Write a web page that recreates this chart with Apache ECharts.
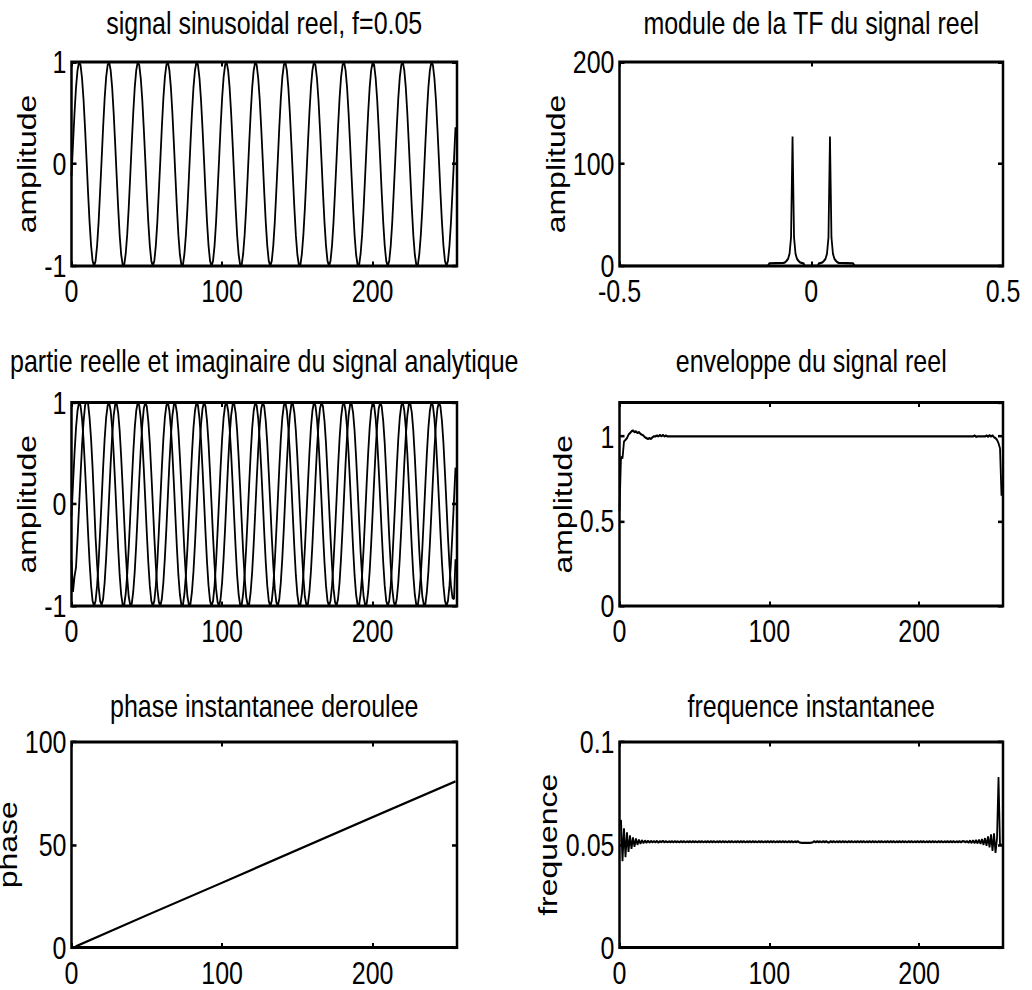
<!DOCTYPE html>
<html>
<head>
<meta charset="utf-8">
<script src="https://cdn.jsdelivr.net/npm/echarts@6/dist/echarts.min.js"></script>
<style>
html, body { margin: 0; padding: 0; background: #fff; overflow: hidden; }
#wrap { width: 1032px; height: 990px; overflow: hidden; position: relative; }
#chart { width: 1032px; height: 774px; transform: scaleY(1.2790698); transform-origin: 0 0; }
</style>
</head>
<body>
<div id="wrap"><div id="chart"></div></div>
<script>
// ---------------- data ----------------
const titles = [
  'signal sinusoidal reel, f=0.05',
  'module de la TF du signal reel',
  'partie reelle et imaginaire du signal analytique',
  'enveloppe du signal reel',
  'phase instantanee deroulee',
  'frequence instantanee'
];
const yNames = ['amplitude', 'amplitude', 'amplitude', 'amplitude', 'phase', 'frequence'];

// real signal, samples t = 0..255
const signalReel = [
  -0.12,0.20,0.50,0.75,0.92,1.00,0.97,0.84,0.63,0.35,0.04,-0.28,-0.57,-0.80,-0.95,-1.00,-0.95,-0.80,-0.57,-0.27,0.04,0.36,0.64,0.85,0.97,1.00,0.92,0.75,0.50,0.20,-0.12,-0.43,-0.70,-0.89,-0.99,-0.99,-0.88,-0.69,-0.43,
  -0.12,0.20,0.50,0.75,0.92,1.00,0.97,0.84,0.63,0.35,0.04,-0.28,-0.57,-0.80,-0.95,-1.00,-0.95,-0.80,-0.57,-0.27,0.04,0.36,0.64,0.85,0.97,1.00,0.92,0.75,0.50,0.20,-0.12,-0.43,-0.70,-0.89,-0.99,-0.99,-0.88,-0.69,-0.43,
  -0.12,0.20,0.50,0.75,0.92,1.00,0.97,0.84,0.63,0.35,0.04,-0.28,-0.57,-0.80,-0.95,-1.00,-0.95,-0.80,-0.57,-0.27,0.04,0.36,0.64,0.85,0.97,1.00,0.92,0.75,0.50,0.20,-0.12,-0.43,-0.70,-0.89,-0.99,-0.99,-0.88,-0.69,-0.43,
  -0.12,0.20,0.50,0.75,0.92,1.00,0.97,0.84,0.63,0.35,0.04,-0.28,-0.57,-0.80,-0.95,-1.00,-0.95,-0.80,-0.57,-0.27,0.04,0.36,0.64,0.85,0.97,1.00,0.92,0.75,0.50,0.20,-0.12,-0.43,-0.70,-0.89,-0.99,-0.99,-0.88,-0.69,-0.43,
  -0.12,0.20,0.50,0.75,0.92,1.00,0.97,0.84,0.63,0.35,0.04,-0.28,-0.57,-0.80,-0.95,-1.00,-0.95,-0.80,-0.57,-0.27,0.04,0.36,0.64,0.85,0.97,1.00,0.92,0.75,0.50,0.20,-0.12,-0.43,-0.70,-0.89,-0.99,-0.99,-0.88,-0.69,-0.43,
  -0.12,0.20,0.50,0.75,0.92,1.00,0.97,0.84,0.63,0.35,0.04,-0.28,-0.57,-0.80,-0.95,-1.00,-0.95,-0.80,-0.57,-0.27,0.04,0.36,0.64,0.85,0.97,1.00,0.92,0.75,0.50,0.20,-0.12,-0.43,-0.70,-0.89,-0.99,-0.99,-0.88,-0.69,-0.43,
  -0.12,0.20,0.50,0.75,0.92,1.00,0.97,0.84,0.63,0.35,0.04,-0.28,-0.57,-0.80,-0.95,-1.00,-0.95,-0.80,-0.57,-0.27,0.04,0.36
];

// imaginary part of the analytic signal, t = 0..255
const partieImag = [
  -0.55,-0.86,-0.71,-0.62,-0.34,-0.03,0.28,0.58,0.81,0.97,1.02,0.99,0.85,0.64,0.36,0.02,-0.33,-0.59,-0.81,-0.95,-0.99,-0.93,-0.77,-0.53,-0.24,0.08,0.40,0.67,0.87,0.98,0.99,0.90,0.72,0.46,0.16,-0.16,-0.47,-0.72,-0.91,
  -0.99,-0.98,-0.86,-0.66,-0.39,-0.08,0.24,0.54,0.78,0.94,1.00,0.96,0.82,0.60,0.31,0.00,-0.32,-0.60,-0.83,-0.96,-1.00,-0.93,-0.77,-0.53,-0.24,0.08,0.40,0.67,0.87,0.98,0.99,0.90,0.72,0.46,0.16,-0.16,-0.47,-0.72,-0.91,
  -0.99,-0.98,-0.86,-0.66,-0.39,-0.08,0.24,0.54,0.78,0.94,1.00,0.96,0.82,0.60,0.31,0.00,-0.32,-0.60,-0.83,-0.96,-1.00,-0.93,-0.77,-0.53,-0.24,0.08,0.40,0.67,0.87,0.98,0.99,0.90,0.72,0.46,0.16,-0.16,-0.47,-0.72,-0.91,
  -0.99,-0.98,-0.86,-0.66,-0.39,-0.08,0.24,0.54,0.78,0.94,1.00,0.96,0.82,0.60,0.31,0.00,-0.32,-0.60,-0.83,-0.96,-1.00,-0.93,-0.77,-0.53,-0.24,0.08,0.40,0.67,0.87,0.98,0.99,0.90,0.72,0.46,0.16,-0.16,-0.47,-0.72,-0.91,
  -0.99,-0.98,-0.86,-0.66,-0.39,-0.08,0.24,0.54,0.78,0.94,1.00,0.96,0.82,0.60,0.31,0.00,-0.32,-0.60,-0.83,-0.96,-1.00,-0.93,-0.77,-0.53,-0.24,0.08,0.40,0.67,0.87,0.98,0.99,0.90,0.72,0.46,0.16,-0.16,-0.47,-0.72,-0.91,
  -0.99,-0.98,-0.86,-0.66,-0.39,-0.08,0.24,0.54,0.78,0.94,1.00,0.96,0.82,0.60,0.31,0.00,-0.32,-0.60,-0.83,-0.96,-1.00,-0.93,-0.77,-0.53,-0.24,0.08,0.40,0.67,0.87,0.98,0.99,0.90,0.72,0.46,0.16,-0.16,-0.47,-0.72,-0.91,
  -0.99,-0.98,-0.86,-0.66,-0.39,-0.08,0.24,0.54,0.78,0.94,1.00,0.96,0.82,0.60,0.31,0.00,-0.32,-0.60,-0.80,-0.92,-0.93,-0.54
];

// magnitude of the Fourier transform (normalised frequency, amplitude)
const tfFreq = [-0.5,-0.1133,-0.1094,-0.0723,-0.0684,-0.0645,-0.0605,-0.0566,-0.0527,-0.0488,-0.0449,-0.0410,-0.0371,-0.0332,-0.0293,-0.0254,-0.0215,-0.0195,-0.0176,
                0.0176,0.0195,0.0215,0.0254,0.0293,0.0332,0.0371,0.0410,0.0449,0.0488,0.0527,0.0566,0.0605,0.0645,0.0684,0.0723,0.1094,0.1133,0.5];
const tfModule = [0,0,2.5,3,3.5,5,7,12,28,127,28,12,7,5,3.5,3,2.5,2.5,0,
                  0,2.5,2.5,3,3.5,5,7,12,28,127,28,12,7,5,3.5,3,2.5,0,0];

// envelope (sample index, value)
const envT   = [0,1,2,3,4,5,6,7,8,9,10,11,12,13,14,15,16,17,18,19,20,21,22,23,24,25,26,27,28,29,30,31,32,
                236,237,238,239,244,245,246,247,248,249,250,251,252,253,254,255];
const envVal = [0.56,0.88,0.87,0.97,0.98,0.99,1.01,1.02,1.03,1.035,1.025,1.03,1.02,1.025,1.015,1.01,1.005,0.995,0.99,0.985,0.99,0.985,0.995,1.0,1.0,1.005,1.0,1.008,1.0,1.008,1.0,1.006,1.0,
                1.0,1.006,0.998,1.0,1.0,1.006,0.998,1.007,1.0,1.006,0.995,0.99,0.98,0.96,0.93,0.65];

// unwrapped instantaneous phase (sample index, value)
const phaseT   = [0, 2, 4, 50, 100, 150, 200, 255];
const phaseVal = [-0.2, 0.1, 0.9, 15.7, 31.5, 47.5, 63.4, 80.8];

// instantaneous frequency, t = 0..255
const freqInst = [
  0.0605,0.0620,0.0420,0.0580,0.0440,0.0560,0.0465,0.0545,0.0480,0.0535,
  0.0490,0.0530,0.0500,0.0525,0.0505,0.0522,0.0508,0.0520,0.0510,0.0519,
  0.0511,0.0518,0.0512,0.0517,0.0512,0.0518,0.0511,0.0517,0.0513,0.0518,
  0.0512,0.0517,0.0512,0.0516,0.0513,0.0517,0.0512,0.0517,0.0513,0.0516,
  0.0512,0.0517,0.0513,0.0517,0.0512,0.0516,0.0513,0.0517,0.0512,0.0517,
  0.0513,0.0516,0.0512,0.0517,0.0513,0.0517,0.0512,0.0516,0.0513,0.0517,
  0.0512,0.0517,0.0513,0.0517,0.0512,0.0516,0.0513,0.0517,0.0512,0.0517,
  0.0513,0.0516,0.0512,0.0517,0.0513,0.0517,0.0512,0.0516,0.0513,0.0517,
  0.0512,0.0517,0.0513,0.0517,0.0512,0.0516,0.0513,0.0517,0.0512,0.0517,
  0.0513,0.0516,0.0512,0.0517,0.0513,0.0517,0.0512,0.0516,0.0513,0.0517,
  0.0512,0.0517,0.0513,0.0517,0.0512,0.0516,0.0513,0.0517,0.0512,0.0517,
  0.0513,0.0516,0.0512,0.0517,0.0513,0.0517,0.0512,0.0516,0.0513,0.0517,
  0.0512,0.0510,0.0509,0.0509,0.0509,0.0509,0.0509,0.0509,0.0510,0.0512,
  0.0517,0.0512,0.0517,0.0513,0.0516,0.0512,0.0517,0.0513,0.0517,0.0512,
  0.0512,0.0517,0.0513,0.0517,0.0512,0.0516,0.0513,0.0517,0.0512,0.0517,
  0.0513,0.0516,0.0512,0.0517,0.0513,0.0517,0.0512,0.0516,0.0513,0.0517,
  0.0512,0.0517,0.0513,0.0517,0.0512,0.0516,0.0513,0.0517,0.0512,0.0517,
  0.0513,0.0516,0.0512,0.0517,0.0513,0.0517,0.0512,0.0516,0.0513,0.0517,
  0.0512,0.0517,0.0513,0.0517,0.0512,0.0516,0.0513,0.0517,0.0512,0.0517,
  0.0513,0.0516,0.0512,0.0517,0.0513,0.0517,0.0512,0.0516,0.0513,0.0517,
  0.0512,0.0517,0.0513,0.0517,0.0512,0.0516,0.0513,0.0517,0.0512,0.0517,
  0.0513,0.0516,0.0512,0.0517,0.0513,0.0517,0.0512,0.0516,0.0513,0.0517,
  0.0512,0.0517,0.0513,0.0517,0.0512,0.0516,0.0513,0.0517,0.0512,0.0517,
  0.0516,0.0513,0.0517,0.0510,0.0520,0.0509,0.0521,0.0508,0.0522,0.0507,
  0.0524,0.0505,0.0527,0.0500,0.0532,0.0495,0.0540,0.0488,0.0550,0.0470,
  0.0555,0.0460,0.0530,0.0830,0.0500,0.0500
];

// axis ranges [min, max, interval]
const xRanges = [[0,256,100],[-0.5,0.5,0.5],[0,256,100],[0,256,100],[0,256,100],[0,256,100]];
const yRanges = [[-1,1,1],[0,200,100],[-1,1,1],[0,1.2,0.5],[0,100,50],[0,0.1,0.05]];

// ---------------- layout / style ----------------
const S = 990 / 774;                 // vertical stretch of the page
const FONT = '"Liberation Sans", Arial, Helvetica, sans-serif';
const FS = 25;
const cols = [{left: 71.5, right: 457}, {left: 619.5, right: 1003}];
const rows = [[62, 266], [402.5, 606], [742, 947.5]];
const titleInkTop = [12, 350, 695];
const nameGaps = [32, 47, 32, 42, 39, 59];
const showMaxX = [false, true, false, false, false, false];
const showMaxY = [true, true, true, false, true, true];

const grids = [], xAxes = [], yAxes = [], titleOpts = [];
for (let i = 0; i < 6; i++) {
  const c = cols[i % 2], r = rows[Math.floor(i / 2)];
  grids.push({
    left: c.left, width: c.right - c.left,
    top: r[0] / S, height: (r[1] - r[0]) / S,
    show: true, borderColor: '#000', borderWidth: 2.5, backgroundColor: 'transparent',
    containLabel: false, outerBoundsMode: 'none'
  });
  titleOpts.push({
    text: titles[i], left: (c.left + c.right) / 2, top: titleInkTop[Math.floor(i / 2)] / S - 4,
    textAlign: 'center', padding: 0,
    textStyle: {fontSize: FS, fontWeight: 'normal', color: '#000', fontFamily: FONT}
  });
  const xr = xRanges[i], yr = yRanges[i];
  const tick = (len) => ({show: true, inside: true, length: len, lineStyle: {color: '#000', width: 2}});
  const noLine = {show: false, onZero: false};
  const lab = (showMax) => ({show: true, color: '#000', fontSize: FS, fontFamily: FONT, showMaxLabel: showMax, showMinLabel: true, hideOverlap: false});
  xAxes.push({
    gridIndex: i, type: 'value', position: 'bottom', min: xr[0], max: xr[1], interval: xr[2],
    axisLine: noLine, axisTick: tick(3.5), splitLine: {show: false},
    axisLabel: Object.assign(lab(showMaxX[i]), {margin: 7})
  });
  xAxes.push({
    gridIndex: i, type: 'value', position: 'top', min: xr[0], max: xr[1], interval: xr[2],
    axisLine: noLine, axisTick: tick(3.5), splitLine: {show: false}, axisLabel: {show: false}
  });
  yAxes.push({
    gridIndex: i, type: 'value', position: 'left', min: yr[0], max: yr[1], interval: yr[2],
    axisLine: noLine, axisTick: tick(5), splitLine: {show: false},
    axisLabel: Object.assign(lab(showMaxY[i]), {margin: 5}),
    name: yNames[i], nameLocation: 'middle', nameGap: nameGaps[i],
    nameTextStyle: {fontSize: FS, color: '#000', fontFamily: FONT}
  });
  yAxes.push({
    gridIndex: i, type: 'value', position: 'right', min: yr[0], max: yr[1], interval: yr[2],
    axisLine: noLine, axisTick: tick(5), splitLine: {show: false}, axisLabel: {show: false}
  });
}

const bySample = arr => arr.map((v, t) => [t, v]);
const zip = (xs, ys) => xs.map((x, k) => [x, ys[k]]);
const lineSeries = (g, data) => ({
  type: 'line', xAxisIndex: 2 * g, yAxisIndex: 2 * g, data: data,
  symbol: 'none', showSymbol: false, silent: true, clip: true, smooth: false,
  lineStyle: {color: '#000', width: 1.8}
});

const chart = echarts.init(document.getElementById('chart'), null, {renderer: 'svg'});
chart.setOption({
  animation: false,
  backgroundColor: '#fff',
  title: titleOpts,
  grid: grids,
  xAxis: xAxes,
  yAxis: yAxes,
  series: [
    lineSeries(0, bySample(signalReel)),
    lineSeries(1, zip(tfFreq, tfModule)),
    lineSeries(2, bySample(signalReel)),
    lineSeries(2, bySample(partieImag)),
    lineSeries(3, zip(envT, envVal)),
    lineSeries(4, zip(phaseT, phaseVal)),
    lineSeries(5, bySample(freqInst))
  ]
});
</script>
</body>
</html>
